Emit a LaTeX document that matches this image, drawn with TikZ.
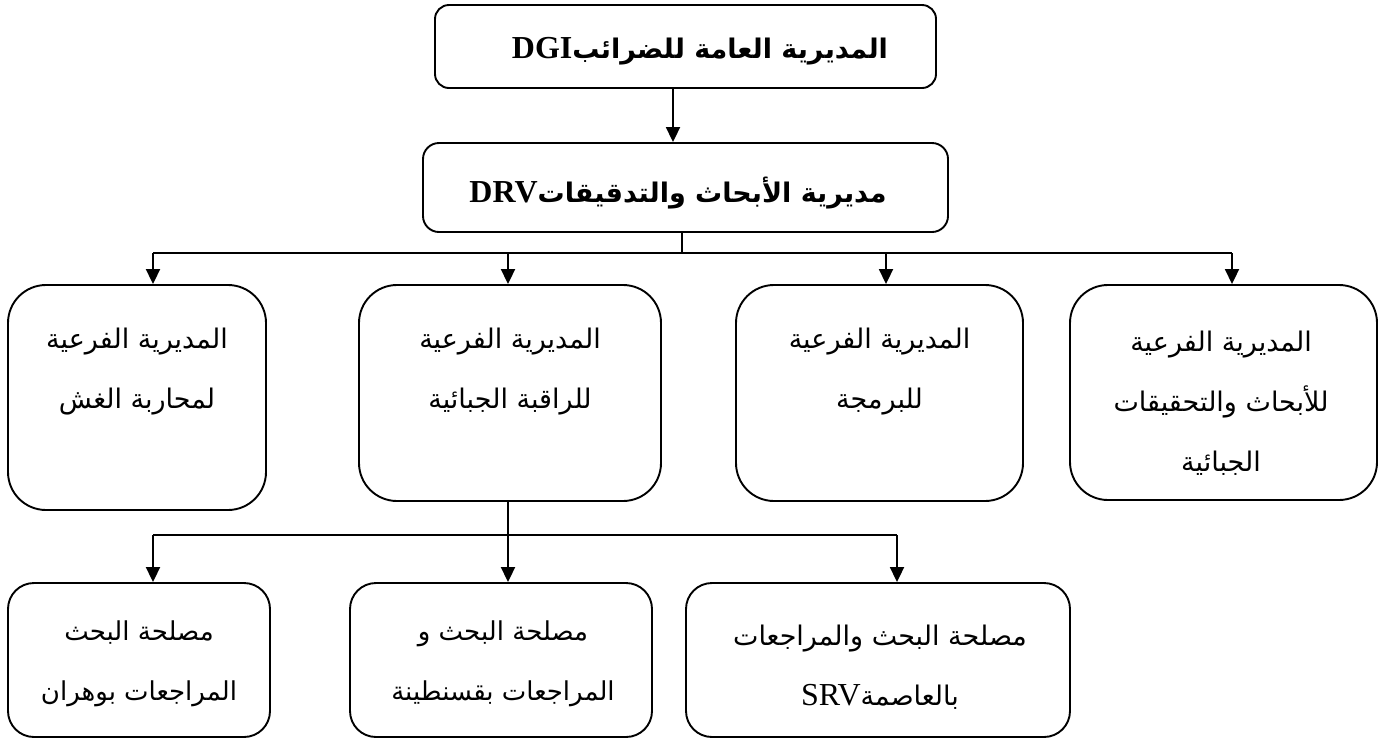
\documentclass[tikz,border=0pt]{standalone}
\usepackage{fontspec}
\usetikzlibrary{arrows.meta}
\TeXXeTstate=1
\newfontfamily\arabicfont[Script=Arabic]{DejaVu Sans}
\newfontfamily\latinserif{Liberation Serif}
\newcommand{\ar}[1]{{\arabicfont\beginR #1\endR}}
\begin{document}
\begin{tikzpicture}[x=1pt,y=-1pt,
  box/.style={draw,line width=1.9pt,rounded corners=#1,inner sep=0pt},
  arr/.style={line width=1.9pt,-{Triangle[length=15pt,width=14pt]}},
  conn/.style={line width=1.9pt},
  headtxt/.style={font=\arabicfont\bfseries\fontsize{27}{30}\selectfont,inner sep=0pt},
  subtxt/.style={align=center,font=\arabicfont\fontsize{27}{60}\selectfont,inner sep=0pt},
  svctxt/.style={align=center,font=\arabicfont\fontsize{26}{60}\selectfont,inner sep=0pt},
  svcwide/.style={align=center,font=\arabicfont\fontsize{27}{60}\selectfont,inner sep=0pt}]
\useasboundingbox[fill=white] (0,0) rectangle (1388,740);
% top level
\node[box=14pt,minimum width=501pt,minimum height=83pt] (dgi) at (685.5,46.5) {};
\node[headtxt] (dgit) at (700,51) {\beginR المديرية العامة للضرائب\beginL{\latinserif\bfseries\fontsize{32}{32}\selectfont DGI}\endL\endR};
\node[box=16pt,minimum width=525pt,minimum height=89pt] (drv) at (685.5,187.5) {};
\node[headtxt] (drvt) at (678,193) {\beginR مديرية الأبحاث والتدقيقات\beginL{\latinserif\bfseries\fontsize{32}{32}\selectfont DRV}\endL\endR};
% second level
\node[box=38pt,minimum width=258pt,minimum height=225pt] (a) at (137,397.5) {};
\node[box=38pt,minimum width=302pt,minimum height=216pt] (b) at (510,393) {};
\node[box=38pt,minimum width=287pt,minimum height=216pt] (c) at (879.5,393) {};
\node[box=38pt,minimum width=307pt,minimum height=215pt] (d) at (1223.5,392.5) {};
\node[subtxt] (at) at (137,372) {\ar{المديرية الفرعية}\\\ar{لمحاربة الغش}};
\node[subtxt] (bt) at (510,372) {\ar{المديرية الفرعية}\\\ar{للراقبة الجبائية}};
\node[subtxt] (ct) at (879.5,372) {\ar{المديرية الفرعية}\\\ar{للبرمجة}};
\node[subtxt] (dt) at (1221,403) {\ar{المديرية الفرعية}\\\ar{للأبحاث والتحقيقات}\\\ar{الجبائية}};
% third level
\node[box=26pt,minimum width=262pt,minimum height=154pt] (e) at (139,660) {};
\node[box=26pt,minimum width=302pt,minimum height=154pt] (f) at (501,660) {};
\node[box=26pt,minimum width=384pt,minimum height=154pt] (g) at (878,660) {};
\node[svctxt] (et) at (139,664) {\ar{مصلحة البحث}\\\ar{المراجعات بوهران}};
\node[svctxt] (ft) at (503,664) {\ar{مصلحة البحث و}\\\ar{المراجعات بقسنطينة}};
\node[svcwide] (gt) at (880,667) {\ar{مصلحة البحث والمراجعات}\\{\arabicfont\beginR بالعاصمة\beginL{\latinserif\fontsize{32}{32}\selectfont SRV}\endL\endR}};
% connectors top
\coordinate (k0) at (673,88);
\draw[arr] (k0) -- (k0 |- drv.north);
\coordinate (bus1) at (682,253);
\draw[conn] (bus1 |- drv.south) -- (bus1);
\coordinate (pa) at (153,253);
\coordinate (pb) at (508,253);
\coordinate (pc) at (886,253);
\coordinate (pd) at (1232,253);
\draw[conn] (pa) -- (pd);
\draw[arr] (pa) -- (pa |- a.north);
\draw[arr] (pb) -- (pb |- b.north);
\draw[arr] (pc) -- (pc |- c.north);
\draw[arr] (pd) -- (pd |- d.north);
% connectors bottom
\coordinate (bus2) at (508,535);
\draw[conn] (bus2 |- b.south) -- (bus2);
\coordinate (qe) at (153,535);
\coordinate (qg) at (897,535);
\draw[conn] (qe) -- (qg);
\draw[arr] (qe) -- (qe |- e.north);
\draw[arr] (bus2) -- (bus2 |- f.north);
\draw[arr] (qg) -- (qg |- g.north);
\end{tikzpicture}
\end{document}
